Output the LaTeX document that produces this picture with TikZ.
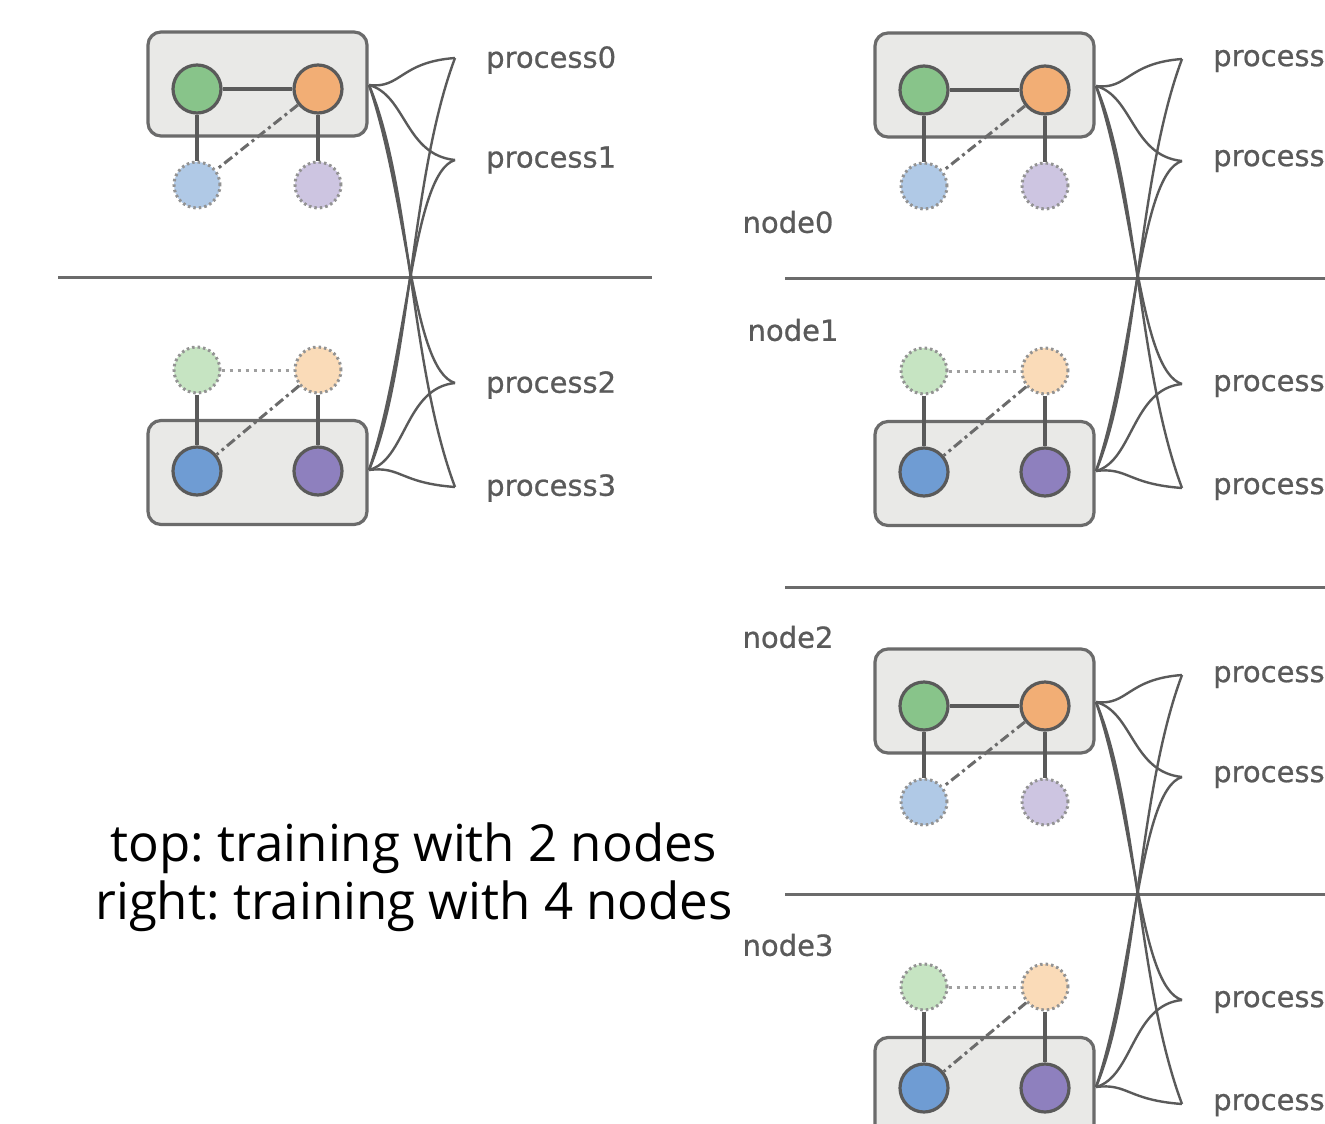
\documentclass[tikz,border=0pt]{standalone}
\usepackage{fontspec}
\setmainfont{Open Sans}
\newfontfamily\lblfont[FakeBold=0.7]{DejaVu Sans}
\definecolor{cgreen}{HTML}{88C48A}
\definecolor{corange}{HTML}{F2AE75}
\definecolor{cblue}{HTML}{6F9CD3}
\definecolor{cpurple}{HTML}{8E80BE}
\definecolor{pgreen}{HTML}{C6E4C2}
\definecolor{porange}{HTML}{FADBB8}
\definecolor{pblue}{HTML}{B0C9E6}
\definecolor{ppurple}{HTML}{CDC5E1}
\definecolor{boxfill}{HTML}{E9E9E7}
\definecolor{ink}{HTML}{5A5A5A}
\tikzset{
  gbox/.style={draw=ink!90, fill=boxfill, line width=3.2pt, rounded corners=13pt, minimum width=219pt, minimum height=104pt, inner sep=0pt},
  gpu/.style={circle, draw=ink, line width=3.2pt, minimum size=48pt, inner sep=0pt},
  ghost/.style={circle, draw=gray!85, line width=3pt, dash pattern=on 2.5pt off 3pt, minimum size=46pt, inner sep=0pt},
  link/.style={draw=ink, line width=3.2pt},
  dotlink/.style={draw=gray!75, line width=3pt, dash pattern=on 3pt off 5pt},
  dashdotlink/.style={draw=ink!90, line width=3pt, dash pattern=on 10pt off 4pt on 3pt off 4pt},
  fan/.style={draw=ink, line width=2.4pt},
  plabel/.style={anchor=west, text=ink, font=\lblfont\fontsize{29}{31}\selectfont, inner sep=0pt},
  nlabel/.style={text=ink, font=\lblfont\fontsize{29}{31}\selectfont, inner sep=0pt},
  sep/.style={draw=ink!90, line width=3pt},
  caption/.style={align=center, text=black, font=\frenchspacing\fontsize{51}{58}\selectfont, inner sep=0pt}
}
% #1 x shift, #2 y of centre line, #3 name prefix, #4-#7 labels
\newcommand{\mygroup}[7]{%
\begin{scope}[shift={(#1,#2)}, name prefix=#3-]
  \node[gbox] (tb) at (257.5,-193) {};
  \node[gbox] (bb) at (257.5,195.5) {};
  % top node
  \node[ghost, fill=pblue] (tdb) at (197,-92) {};
  \node[ghost, fill=ppurple] (tdp) at (318,-92) {};
  \node[gpu, fill=cgreen] (tg) at (197,-188) {};
  \node[gpu, fill=corange] (to) at (318,-188) {};
  \draw[link] (tg) -- (to);
  \draw[link] (tg) -- (tdb);
  \draw[link] (to) -- (tdp);
  \draw[dashdotlink] (to) -- (tdb);
  % bottom node
  \node[ghost, fill=pgreen] (bdg) at (197,93) {};
  \node[ghost, fill=porange] (bdo) at (318,93) {};
  \node[gpu, fill=cblue] (bb1) at (197,194) {};
  \node[gpu, fill=cpurple] (bp) at (318,194) {};
  \draw[dotlink] (bdg) -- (bdo);
  \draw[link] (bdg) -- (bb1);
  \draw[link] (bdo) -- (bp);
  \draw[dashdotlink] (bdo) -- (bb1);
  % fan connectors
  \coordinate (A) at (369,-192);
  \coordinate (B) at (369,193);
  \coordinate (p0) at (455,-219);
  \coordinate (p1) at (455,-117);
  \coordinate (p2) at (455,106);
  \coordinate (p3) at (455,210);
  \draw[fan] (A) .. controls +(32,4) and +(-55,4) .. (p0);
  \draw[fan] (A) .. controls +(37,10) and +(-50,-5) .. (p1);
  \draw[fan] (B) .. controls +(42,-100) and +(-45,120) .. (p0);
  \draw[fan] (B) .. controls +(39,-115) and +(-43,13) .. (p1);
  \draw[fan] (A) .. controls +(39,115) and +(-43,-13) .. (p2);
  \draw[fan] (A) .. controls +(42,100) and +(-45,-120) .. (p3);
  \draw[fan] (B) .. controls +(37,-10) and +(-50,5) .. (p2);
  \draw[fan] (B) .. controls +(32,-4) and +(-55,-4) .. (p3);
  % labels
  \node[plabel] (l0) at (486,-217) {#4};
  \node[plabel] (l1) at (486,-117) {#5};
  \node[plabel] (l2) at (486,108) {#6};
  \node[plabel] (l3) at (486,211) {#7};
\end{scope}}
\begin{document}
\begin{tikzpicture}[x=1pt, y=-1pt]
\clip (0,0) rectangle (1325,1124);
\fill[white] (0,0) rectangle (1325,1124);
% separators
\coordinate (s0a) at (58,277);  \coordinate (s0b) at (652,277);
\draw[sep] (s0a) -- (s0b);
\coordinate (s1a) at (785,278); \coordinate (s1b) at (1330,278);
\coordinate (s2a) at (785,587); \coordinate (s2b) at (1330,587);
\coordinate (s3a) at (785,894); \coordinate (s3b) at (1330,894);
\draw[sep] (s1a) -- (s1b);
\draw[sep] (s2a) -- (s2b);
\draw[sep] (s3a) -- (s3b);
\mygroup{0}{277}{L}{process0}{process1}{process2}{process3}
\mygroup{727}{278}{R}{process}{process}{process}{process}
\mygroup{727}{894}{S}{process}{process}{process}{process}
% node labels
\node[nlabel] (n0) at (788,222) {node0};
\node[nlabel] (n1) at (793,330) {node1};
\node[nlabel] (n2) at (788,637) {node2};
\node[nlabel] (n3) at (788,945) {node3};
% caption
\node[caption] (cap) at (414,877) {top: training with 2 nodes\\right: training with 4 nodes};
\end{tikzpicture}
\end{document}
